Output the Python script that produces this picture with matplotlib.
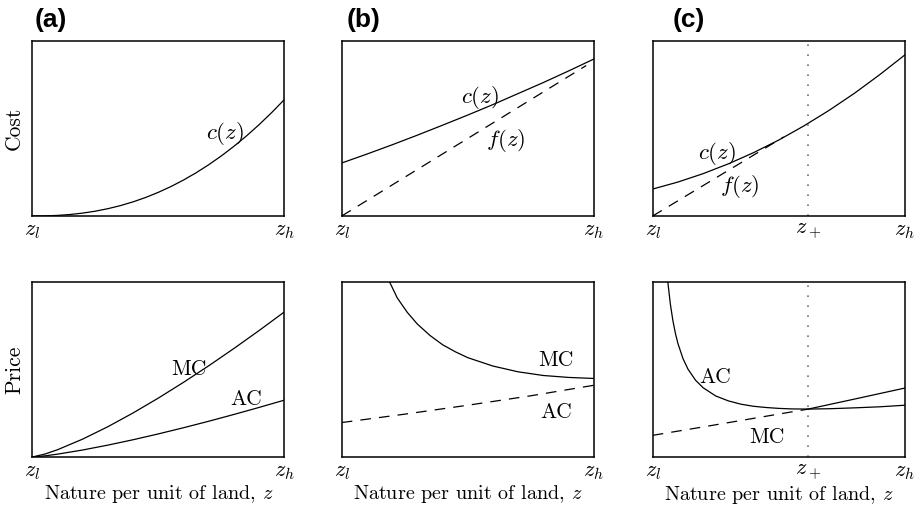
import matplotlib
matplotlib.use('Agg')
import matplotlib.pyplot as plt

plt.rcParams['mathtext.fontset'] = 'cm'
plt.rcParams['font.family'] = 'cmr10'
plt.rcParams['axes.formatter.use_mathtext'] = True
plt.rcParams['font.size'] = 15

# (a) top: cost curve
xa = [0, 0.05, 0.1, 0.15, 0.2, 0.25, 0.3, 0.35, 0.4, 0.45, 0.5, 0.55, 0.6, 0.65, 0.7, 0.75, 0.8, 0.85, 0.9, 0.95, 1.0]
ca = [0, 0.0007, 0.0033, 0.0085, 0.0164, 0.0274, 0.0417, 0.0594, 0.0808, 0.1059, 0.1351, 0.1681,
      0.2054, 0.2469, 0.2928, 0.3431, 0.3981, 0.4576, 0.5219, 0.5910, 0.665]
# (a) bottom: MC and AC
xa2 = [0, 0.05, 0.1, 0.2, 0.3, 0.4, 0.5, 0.6, 0.7, 0.8, 0.9, 1.0]
mca = [0, 0.0169, 0.0415, 0.1023, 0.1733, 0.2519, 0.3367, 0.4268, 0.5214, 0.6203, 0.7229, 0.829]
aca = [0, 0.0066, 0.0163, 0.0401, 0.068, 0.0987, 0.132, 0.1673, 0.2044, 0.2432, 0.2834, 0.325]

# (b) top: cost c(z) and line f(z)
xb = [0, 0.1, 0.2, 0.3, 0.4, 0.5, 0.6, 0.7, 0.8, 0.9, 1.0]
cb = [0.303, 0.354, 0.407, 0.462, 0.519, 0.577, 0.637, 0.700, 0.763, 0.829, 0.897]
xfb = [0, 0.97]
fb = [0, 0.86]
# (b) bottom
xmcb = [0.19, 0.22, 0.26, 0.3, 0.35, 0.4, 0.45, 0.5, 0.6, 0.7, 0.8, 0.9, 1.0]
mcb = [1.0, 0.91, 0.827, 0.76, 0.695, 0.642, 0.602, 0.568, 0.52, 0.487, 0.466, 0.455, 0.449]
xacb = [0, 0.25, 0.5, 0.75, 1.0]
acb = [0.197, 0.245, 0.296, 0.35, 0.41]

# (c) top
z_plus = 0.617
xc = [0, 0.1, 0.2, 0.3, 0.4, 0.5, 0.6, 0.7, 0.8, 0.9, 1.0]
cc = [0.154, 0.194, 0.242, 0.298, 0.362, 0.434, 0.515, 0.604, 0.701, 0.807, 0.92]
xfc = [0, 0.52]
fc = [0, 0.452]
# (c) bottom
xacc = [0.06, 0.07, 0.08, 0.09, 0.1, 0.12, 0.14, 0.17, 0.2, 0.25, 0.3, 0.35, 0.4, 0.45, 0.5, 0.55,
        0.617, 0.7, 0.8, 0.9, 1.0]
acc = [1.0, 0.874, 0.780, 0.707, 0.649, 0.563, 0.502, 0.439, 0.396, 0.349, 0.321, 0.302, 0.290,
       0.283, 0.278, 0.275, 0.274, 0.276, 0.281, 0.287, 0.296]
xmcc_d = [0, 0.2, 0.4, 0.617]
mcc_d = [0.124, 0.172, 0.221, 0.274]
xmcc_s = [0.617, 0.8, 1.0]
mcc_s = [0.274, 0.331, 0.394]

fig = plt.figure(figsize=(9.17, 5.07), dpi=100)
W, H = 0.2748, 0.345
lefts = [0.0352, 0.3727, 0.7118]
bottoms = [0.574, 0.0986]
axs = [[fig.add_axes([l, b, W, H]) for l in lefts] for b in bottoms]

lw = 0.9
dash = (0, (8.5, 6.5))
fs = 15.5
for row in axs:
    for ax in row:
        ax.set_xlim(0, 1)
        ax.set_ylim(0, 1)
        ax.set_yticks([])
        ax.tick_params(axis='x', length=0, pad=4, labelsize=16)
        for s in ax.spines.values():
            s.set_linewidth(1.1)
for i, row in enumerate(axs):
    for j, ax in enumerate(row):
        if j == 2:
            ax.set_xticks([0, z_plus, 1])
            ax.set_xticklabels([r'$z_l$', r'$z_+$', r'$z_h$'])
            ax.axvline(z_plus, color='0.45', lw=1.2, linestyle=(0, (1, 5)))
        else:
            ax.set_xticks([0, 1])
            ax.set_xticklabels([r'$z_l$', r'$z_h$'])
        if i == 1:
            ax.set_xlabel(r'Nature per unit of land, $z$', fontsize=14.5, labelpad=1)

axs[0][0].set_ylabel('Cost', fontsize=fs, labelpad=6)
axs[1][0].set_ylabel('Price', fontsize=fs, labelpad=6)

# (a)
ax = axs[0][0]
ax.plot(xa, ca, color='k', lw=lw)
ax.text(0.765, 0.473, r'$c(z)$', ha='center', va='center', fontsize=16.5)
ax = axs[1][0]
ax.plot(xa2, mca, color='k', lw=lw)
ax.plot(xa2, aca, color='k', lw=lw)
ax.text(0.623, 0.499, 'MC', ha='center', va='center', fontsize=fs)
ax.text(0.848, 0.331, 'AC', ha='center', va='center', fontsize=fs)

# (b)
ax = axs[0][1]
ax.plot(xb, cb, color='k', lw=lw)
ax.plot(xfb, fb, color='k', lw=lw, linestyle=dash)
ax.text(0.55, 0.68, r'$c(z)$', ha='center', va='center', fontsize=16.5)
ax.text(0.65, 0.434, r'$f(z)$', ha='center', va='center', fontsize=16.5)
ax = axs[1][1]
ax.plot(xmcb, mcb, color='k', lw=lw)
ax.plot(xacb, acb, color='k', lw=lw, linestyle=dash)
ax.text(0.85, 0.553, 'MC', ha='center', va='center', fontsize=fs)
ax.text(0.85, 0.257, 'AC', ha='center', va='center', fontsize=fs)

# (c)
ax = axs[0][2]
ax.plot(xc, cc, color='k', lw=lw)
ax.plot(xfc, fc, color='k', lw=lw, linestyle=dash)
ax.text(0.254, 0.358, r'$c(z)$', ha='center', va='center', fontsize=16.5)
ax.text(0.346, 0.167, r'$f(z)$', ha='center', va='center', fontsize=16.5)
ax = axs[1][2]
ax.plot(xacc, acc, color='k', lw=lw)
ax.plot(xmcc_d, mcc_d, color='k', lw=lw, linestyle=dash)
ax.plot(xmcc_s, mcc_s, color='k', lw=lw)
ax.text(0.247, 0.457, 'AC', ha='center', va='center', fontsize=fs)
ax.text(0.452, 0.114, 'MC', ha='center', va='center', fontsize=fs)

# panel letters
for lbl, xpx in zip(['(a)', '(b)', '(c)'], [35, 347, 673]):
    fig.text(xpx / 917, 1 - 20 / 507, lbl, fontsize=19, fontweight='bold',
             family='Liberation Sans', ha='left', va='center')

fig.savefig('out.png', dpi=100)
